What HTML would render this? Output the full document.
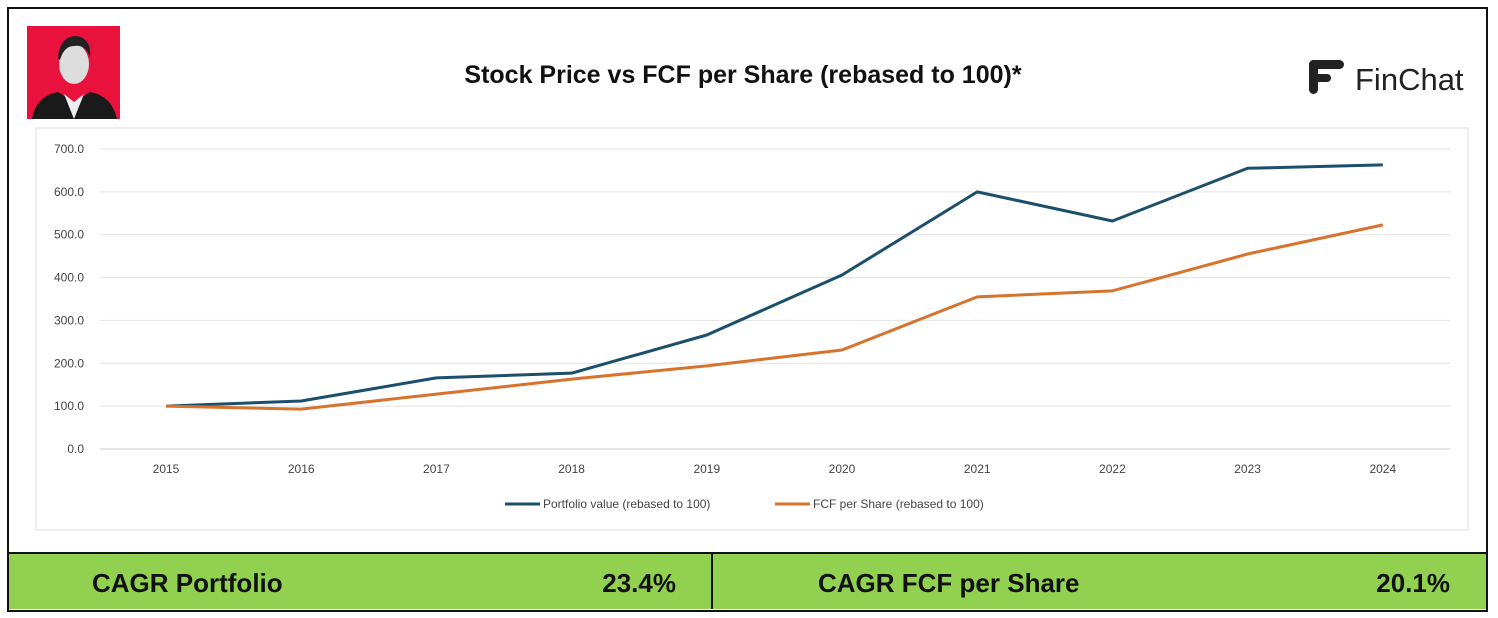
<!DOCTYPE html>
<html><head><meta charset="utf-8"><style>
body{margin:0;width:1498px;height:618px;background:#fff;overflow:hidden;font-family:"Liberation Sans",sans-serif}
#frame{position:absolute;left:7px;top:7px;width:1477px;height:601px;border:2px solid #111;}
</style></head><body>
<div id="frame"></div>
<svg width="1498" height="618" style="position:absolute;left:0;top:0">
<rect x="27" y="26" width="93" height="93" fill="#e8123c"/>
<g>
<ellipse cx="74" cy="64" rx="15" ry="20" fill="#ddd"/>
<path d="M58,58 Q60,36 76,36 Q92,38 90,58 Q86,44 74,46 Q64,46 60,60Z" fill="#222"/>
<path d="M32,119 Q36,96 58,92 L74,102 L90,92 Q112,96 117,119Z" fill="#1a1a1a"/>
<path d="M64,94 L74,119 L84,94 L74,102Z" fill="#eee"/>
</g>
<text x="743" y="83" text-anchor="middle" font-size="25" font-weight="bold" fill="#111">Stock Price vs FCF per Share (rebased to 100)*</text>
<g>
<rect x="1309" y="60" width="35" height="9" rx="4.5" fill="#222"/>
<rect x="1309" y="60" width="9" height="34" rx="4.5" fill="#222"/>
<rect x="1309" y="74" width="22" height="8" rx="4" fill="#222"/>
<text x="1355" y="90" font-size="31" fill="#222">FinChat</text>
</g>
<rect x="36" y="128" width="1432" height="402" fill="#fff" stroke="#ddd"/>
<g id="grid"></g><g id="lines"></g>
<g>
<line x1="505" y1="504" x2="540" y2="504" stroke="#1b4f6b" stroke-width="3"/>
<text x="543" y="508" font-size="12" fill="#444">Portfolio value (rebased to 100)</text>
<line x1="775" y1="504" x2="810" y2="504" stroke="#d8732e" stroke-width="3"/>
<text x="813" y="508" font-size="12" fill="#444">FCF per Share (rebased to 100)</text>
</g>
<rect x="9" y="553" width="1477" height="56" fill="#92d050"/>
<line x1="9" y1="553" x2="1486" y2="553" stroke="#111" stroke-width="2"/>
<line x1="712" y1="553" x2="712" y2="609" stroke="#111" stroke-width="2"/>
<text x="92" y="592" font-size="26" font-weight="bold" fill="#111">CAGR Portfolio</text>
<text x="676" y="592" text-anchor="end" font-size="26" font-weight="bold" fill="#111">23.4%</text>
<text x="818" y="592" font-size="26" font-weight="bold" fill="#111">CAGR FCF per Share</text>
<text x="1450" y="592" text-anchor="end" font-size="26" font-weight="bold" fill="#111">20.1%</text>
</svg>
<script>
const years=["2015","2016","2017","2018","2019","2020","2021","2022","2023","2024"];
const portfolio=[100,112,166,177,266,406,600,532,655,663];
const fcf=[100,93,128,163,194,231,355,369,455,523];
const yTicks=[0,100,200,300,400,500,600,700];
const NS="http://www.w3.org/2000/svg";
const xs=i=>166+i*135.2, ys=v=>449-v*300/700;
const grid=document.getElementById('grid'), lines=document.getElementById('lines');
function mk(t,a,p){const e=document.createElementNS(NS,t);for(const k in a)e.setAttribute(k,a[k]);p.appendChild(e);return e;}
yTicks.forEach(v=>{
 const l=mk('line',{x1:100,x2:1450,y1:ys(v),y2:ys(v),stroke:v===0?'#ccc':'#e2e2e2'},grid);
 
 
 const t=mk('text',{x:84,y:ys(v)+4,'text-anchor':'end','font-size':12,fill:'#444'},grid);t.textContent=v.toFixed(1);
 
 
});
years.forEach((y,i)=>{
 const t=mk('text',{x:xs(i),y:473,'text-anchor':'middle','font-size':12,fill:'#444'},grid);t.textContent=y;
 
 
});
[[portfolio,'#1b4f6b','portfolio-line'],[fcf,'#d8732e','fcf-line']].forEach(([d,c,n])=>{
 const p=mk('polyline',{points:d.map((v,i)=>xs(i)+','+ys(v)).join(' '),fill:'none',stroke:c,'stroke-width':3,'stroke-linejoin':'round'},lines);
 
 
});
</script>
</body></html>
